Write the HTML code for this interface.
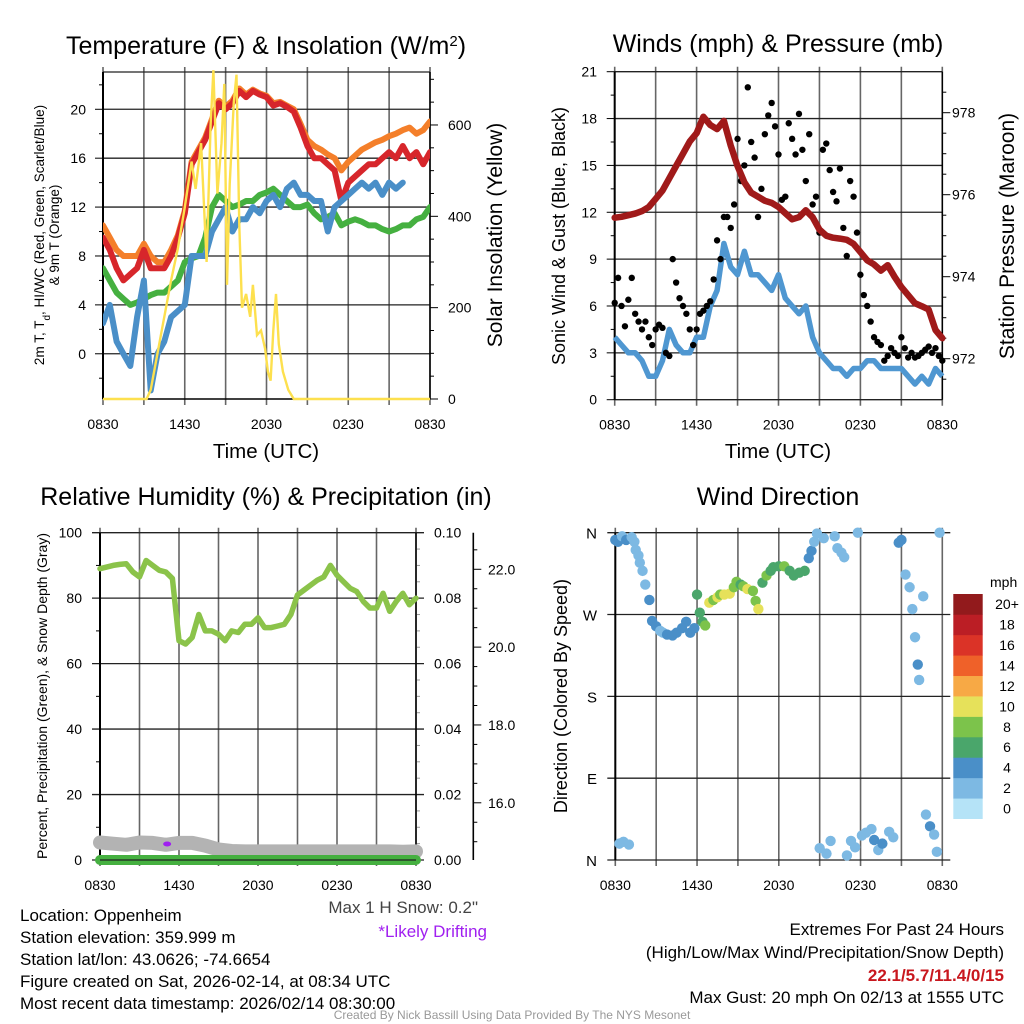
<!DOCTYPE html>
<html><head><meta charset="utf-8"><style>
html,body{margin:0;padding:0;background:#fff}
svg{display:block;font-family:"Liberation Sans",Arial,sans-serif}
</style></head><body>
<svg id="chart" width="1024" height="1024" viewBox="0 0 1024 1024" xmlns="http://www.w3.org/2000/svg">
<rect width="1024" height="1024" fill="#fff"/>
<g id="g1"></g>
<g id="g2"></g>
<g id="g3"></g>
<g id="g4"></g>
<g id="txt" font-size="17" fill="#000">
<text x="20" y="921">Location: Oppenheim</text>
<text x="20" y="943">Station elevation: 359.999 m</text>
<text x="20" y="965">Station lat/lon: 43.0626; -74.6654</text>
<text x="20" y="987">Figure created on Sat, 2026-02-14, at 08:34 UTC</text>
<text x="20" y="1009">Most recent data timestamp: 2026/02/14 08:30:00</text>
<text x="478" y="913" text-anchor="end" fill="#444">Max 1 H Snow: 0.2"</text>
<text x="487" y="937" text-anchor="end" fill="#a020f0">*Likely Drifting</text>
<text x="1004" y="935" text-anchor="end">Extremes For Past 24 Hours</text>
<text x="1004" y="958" text-anchor="end">(High/Low/Max Wind/Precipitation/Snow Depth)</text>
<text x="1004" y="981" text-anchor="end" fill="#c8171e" font-weight="bold">22.1/5.7/11.4/0/15</text>
<text x="1004" y="1003" text-anchor="end">Max Gust: 20 mph On 02/13 at 1555 UTC</text>
<text x="512" y="1019" text-anchor="middle" font-size="12" fill="#999">Created By Nick Bassill Using Data Provided By The NYS Mesonet</text>
</g>
</svg>
<script>
// ---------- DATA ----------
const xTickLabels = ["0830","1430","2030","0230","0830"];
// Panel 1 (0.5 h steps from 0830)
const temp2m = [9.5,8.5,7,6,6.5,7,8.5,7,7,7,8,9.5,11.5,15.5,16.5,17.5,19,20.5,20,20.5,21.5,21,21.5,21.2,21,20.3,20.5,20.2,19.8,18.5,17,16,16,15.5,15,12.5,14,14.5,15,15.5,15.5,16,16.5,16,17,16,16.5,15.5,16.5];
const temp9m = [10.5,9.5,8.5,8,8,8,9,8,7.5,7.5,8.5,9.7,11.7,15.7,16.7,17.7,19.2,20.7,20.2,20.7,21.7,21.2,21.6,21.3,21.1,20.5,20.6,20.3,20,18.8,17.5,17,16.7,16.3,16,15,15.7,16.2,16.7,17,17.3,17.5,17.8,18,18.3,18.5,18,18.3,19];
const dewpt = [7,6,5,4.5,4,4.2,4.5,4.8,5,5,5.5,6,7.5,7.8,8,9.5,12,13,12.5,12,12.2,12.5,12.5,13,13.2,13.5,13,12.5,12,12,12.2,11.5,11,11.2,11.5,10.5,10.8,11,10.8,10.5,10.5,10.2,10,10.2,10.5,10.5,11,11.2,12];
const windChill = [2.5,4,1,0,-1,3,6,-3,0,1,3,3.5,4,8,8,8,10,11,12,10,11,11,12,11.5,12.5,13,12,13.5,14,13,13,12.5,12.5,10,12,12.5,13,13.5,14,13.5,14,13,14,13.5,14,null,null,null,null];
const insolTimes = [0,3.2,3.5,4,4.5,5,5.5,6,6.5,6.8,7.2,7.6,7.9,8.1,8.4,8.7,8.9,9.1,9.3,9.6,9.8,10.0,10.2,10.5,10.8,11.0,11.3,11.6,11.9,12.1,12.3,12.5,12.7,12.9,13.2,13.6,14.0,24];
const insolValues = [0,0,20,100,180,260,330,420,520,460,560,300,600,720,450,560,690,250,470,650,710,380,200,230,180,250,140,150,110,60,40,150,230,120,60,20,0,0];
// Panel 2
const sonicWind = [4,3.5,3,3,2.5,1.5,1.5,2.5,4.5,3.5,3,3,4,4,6,7,10,8.5,8,9.5,8,8,7.5,7,8,6.5,6,5.5,6,4,3,2.5,2,2,1.5,2,2,2.5,2.5,2,2,2,2,1.5,1,1.5,1,2,1.5];
const gusts = [6.2,7.8,6,4.7,6.4,7.8,5.5,5,4.5,5,4,3.5,4.5,4.8,4.6,3,2.8,9,7.5,6.5,6,5.5,4.5,3.5,4.5,5.5,5.7,6,6.3,7.7,10.2,9,11.7,11.7,11,12.5,16.7,14,15,20,16.5,15.5,11.7,13.5,17,18.2,19,17.5,15.7,12.8,13,17.7,16.7,15.7,18.3,16,14,17,12.5,13,10.7,16,16.4,14.7,13.3,12.7,14.8,11,9.2,14,13,10.7,8,6.7,6,5,4,3.7,3.5,2.5,2.8,3.3,3,2.8,4,3.3,2.7,3,2.7,2.8,3,3.2,3.4,3,3.3,2.8,2.5];
const pressure = [975.44,975.46,975.5,975.54,975.6,975.7,975.9,976.1,976.4,976.7,977.0,977.3,977.5,977.9,977.7,977.6,977.8,977.2,976.7,976.3,976.05,975.95,975.85,975.8,975.7,975.55,975.4,975.45,975.62,975.45,975.15,975.0,974.95,974.93,974.9,974.8,974.6,974.4,974.3,974.15,974.28,974.0,973.75,973.55,973.35,973.28,973.2,972.7,972.5];
// Panel 3
const relHum = [89,89.5,90,90.3,90.5,88,86.5,91.5,90,88.5,88,86,67,66,68,75,70,70,69,67,70,69.5,72,72,74,71,71,71.5,72,75,81,82.5,84,85.5,86.5,90,87,85,83,82,79,77,77,81.5,76,79,81.5,78,80];
const precip = [0,0,0,0,0,0,0,0,0,0,0,0,0,0,0,0,0,0,0,0,0,0,0,0,0];
const snowDepth = [14.98,14.95,14.92,14.98,14.97,14.92,14.97,14.97,14.9,14.8,14.76,14.75,14.75,14.75,14.75,14.75,14.75,14.75,14.75,14.75,14.75,14.75,14.75,14.74,14.75];
const driftTimes = [5.1];
const driftValues = [14.94];
// Panel 4
const dirTimes = [0,0.2,0.5,0.8,0.3,0.6,1.0,1.2,1.4,1.5,1.7,1.8,2.0,2.2,2.5,2.7,3.0,3.3,3.5,3.8,4.2,4.5,4.9,5.2,5.5,5.8,6.0,6.2,6.4,6.6,6.9,7.2,7.5,7.7,8.0,8.4,8.7,8.9,9.2,9.4,9.7,10.1,10.3,10.5,10.8,11.1,11.4,11.6,12.0,12.4,12.8,13.1,13.5,13.9,14.2,14.4,14.6,14.8,15.0,15.3,15.5,15.8,16.1,16.3,16.6,16.8,17.0,17.3,17.6,17.8,18.1,18.4,18.8,19.0,19.3,19.6,20.1,20.4,20.8,21.0,21.3,21.6,21.8,22.0,22.2,22.3,22.6,22.8,23.1,23.4,23.6,23.8];
const dirValues = [352,350,356,352,18,20,17,355,350,341,335,327,318,303,286,263,257,252,250,248,247,250,255,262,250,255,292,272,262,258,283,286,289,292,292,293,300,306,303,301,298,296,285,276,305,313,318,322,323,323,318,313,316,318,332,340,350,359,13,354,7,21,356,343,338,333,5,21,14,360,27,30,34,22,11,18,31,25,349,352,314,300,276,245,215,198,290,50,37,28,9,360];
const dirSpeeds = [4,3,2,3,2,2,2,2,1,2,2,2,2,2,3,4,4,2,2,4,4,3,4,4,4,4,5,6,6,7,9,8,9,8,10,9,7,8,6,8,9,7,7,10,6,7,6,6,6,7,6,6,5,5,4,3,2,2,2,1,1,1,2,2,2,2,1,2,2,2,2,2,2,3,2,3,2,2,4,4,2,1,1,1,3,1,1,2,3,2,2,1];
const cbLabels = ["0","2","4","6","8","10","12","14","16","18","20+"];
const cbColors = ["#b5e3f7","#7db9e3","#4a8fc8","#4aa66b","#7cc34b","#e6e15a","#f7a945","#ef6129","#db3327","#bb1e25","#921a1c"];

// ---------- HELPERS ----------
const NS="http://www.w3.org/2000/svg";
function mk(parent,tag,attrs,text){const e=document.createElementNS(NS,tag);for(const k in attrs)e.setAttribute(k,attrs[k]);if(text!==undefined)e.textContent=text;parent.appendChild(e);return e;}
function lin(d0,d1,r0,r1){return v=>r0+(v-d0)*(r1-r0)/(d1-d0);}
function idxT(arr,i){return i*24/(arr.length-1);}
function pathFrom(times,vals,xs,ys){let d="",pen=false;for(let i=0;i<vals.length;i++){if(vals[i]===null){pen=false;continue;}d+=(pen?"L":"M")+xs(times(i)).toFixed(1)+","+ys(vals[i]).toFixed(1);pen=true;}return d;}

function frame(g,L,R,T,B){
  const xs=lin(0,24,L,R);
  for(let h=0;h<=24;h+=3){
    const gl=mk(g,"line",{x1:xs(h),x2:xs(h),y1:T-5,y2:B+6,stroke:"#666","stroke-width":1.6});
    
    
  }
  xTickLabels.forEach((s,i)=>{
    const t=mk(g,"text",{x:xs(i*6),y:B+30,"font-size":14,"text-anchor":"middle"},s);
    
    
  });
  return xs;
}
function hgrid(g,L,R,y,ext){const l=mk(g,"line",{x1:L-ext,x2:R+ext,y1:y,y2:y,stroke:"#222","stroke-width":1.3});
  
  }
function vtext(g,x,y,s,size,name,fill){const t=mk(g,"text",{x:x,y:y,"font-size":size,"text-anchor":"middle",transform:`rotate(-90 ${x} ${y})`,fill:fill||"#000"},s);
  
  return t;}
function ttl(g,x,y,s,name){const t=mk(g,"text",{x:x,y:y,"font-size":25,"text-anchor":"middle"},s);
  
  return t;}

// ---------- PANEL 1 ----------
(function(){
  const g=document.getElementById("g1");const L=103,R=430,T=72,B=399;
  const ys=lin(-3.7,23.05,B,T), yr=lin(0,716,B,T);
  const t=ttl(g,266,54,"Temperature (F) & Insolation (W/m","temperature-panel-title");
  mk(t,"tspan",{"baseline-shift":"super","font-size":15},"2");
  mk(t,"tspan",{},")");
  const xs=frame(g,L,R,T,B);
  hgrid(g,L,R,T,0);
  [0,4,8,12,16,20].forEach(v=>{hgrid(g,L,R,ys(v),0);
    const l=mk(g,"text",{x:86,y:ys(v)+5,"font-size":14,"text-anchor":"end"},String(v));
    
    });
  for(let v=-2;v<=22;v+=2){mk(g,"line",{x1:L,x2:L-(v%4===0?8:4),y1:ys(v),y2:ys(v),stroke:"#000"});}
  [0,200,400,600].forEach(v=>{mk(g,"line",{x1:R,x2:R+8,y1:yr(v),y2:yr(v),stroke:"#000"});
    const l=mk(g,"text",{x:448,y:yr(v)+5,"font-size":14},String(v));
    
    });
  for(let v=50;v<=700;v+=50){if(v%200)mk(g,"line",{x1:R,x2:R+4,y1:yr(v),y2:yr(v),stroke:"#000"});}
  mk(g,"line",{x1:L,x2:L,y1:T,y2:B,stroke:"#000","stroke-width":2});
  mk(g,"line",{x1:R,x2:R,y1:T,y2:B,stroke:"#000","stroke-width":1.5});
  mk(g,"line",{x1:L,x2:R,y1:B,y2:B,stroke:"#000","stroke-width":1.5});
  const cp=mk(g,"clipPath",{id:"c1"});mk(cp,"rect",{x:L,y:T-2,width:R-L,height:B-T+4});
  const series=[[temp9m,"#f47f2a","orange-9m-temp-line"],[temp2m,"#d7262b","red-2m-temp-line"],[dewpt,"#45b040","green-dewpoint-line"],[windChill,"#4a8fc8","blue-windchill-line"]];
  series.forEach(s=>{const p=mk(g,"path",{d:pathFrom(i=>idxT(s[0],i),s[0],xs,ys),fill:"none",stroke:s[1],"stroke-width":6,"stroke-linejoin":"round","stroke-linecap":"round","clip-path":"url(#c1)"});
    
    });
  const p=mk(g,"path",{d:pathFrom(i=>insolTimes[i],insolValues,xs,yr),fill:"none",stroke:"#fde04e","stroke-width":2.4,"clip-path":"url(#c1)"});
  
  
  const xt=mk(g,"text",{x:266,y:458,"font-size":20.5,"text-anchor":"middle"},"Time (UTC)");
  
  
  const a=vtext(g,44,235,"2m T, T",13.5,"left-axis-title-line1");
  mk(a,"tspan",{"baseline-shift":"sub","font-size":10},"d");
  mk(a,"tspan",{},", HI/WC (Red, Green, Scarlet/Blue)");
  vtext(g,59,235,"& 9m T (Orange)",13.5,"left-axis-title-line2");
  vtext(g,502,235,"Solar Insolation (Yellow)",21,"right-axis-title");
})();

// ---------- PANEL 2 ----------
(function(){
  const g=document.getElementById("g2");const L=614.7,R=942.3,T=71.7,B=399.7;
  const ys=lin(0,21,B,T), yp=lin(971,979,B,T);
  ttl(g,778,52,"Winds (mph) & Pressure (mb)","wind-panel-title");
  const xs=frame(g,L,R,T,B);
  [0,3,6,9,12,15,18,21].forEach(v=>{hgrid(g,L,R,ys(v),0);
    mk(g,"line",{x1:L,x2:L-8,y1:ys(v),y2:ys(v),stroke:"#000"});
    const l=mk(g,"text",{x:597,y:ys(v)+5,"font-size":14,"text-anchor":"end"},String(v));
    
    });
  for(let v=1.5;v<21;v+=3)mk(g,"line",{x1:L,x2:L-4,y1:ys(v),y2:ys(v),stroke:"#000"});
  [972,974,976,978].forEach(v=>{mk(g,"line",{x1:R,x2:R+8,y1:yp(v),y2:yp(v),stroke:"#000"});
    const l=mk(g,"text",{x:952,y:yp(v)+5,"font-size":14},String(v));
    
    });
  for(let v=971.5;v<979;v+=0.5){if(v%2)mk(g,"line",{x1:R,x2:R+4,y1:yp(v),y2:yp(v),stroke:"#000"});}
  mk(g,"line",{x1:L,x2:L,y1:T,y2:B,stroke:"#000","stroke-width":2});
  mk(g,"line",{x1:R,x2:R,y1:T,y2:B,stroke:"#000","stroke-width":1.5});
  const p1=mk(g,"path",{d:pathFrom(i=>idxT(sonicWind,i),sonicWind,xs,ys),fill:"none",stroke:"#4f97d1","stroke-width":5.5,"stroke-linejoin":"round"});
  
  
  gusts.forEach((v,i)=>{const c=mk(g,"circle",{cx:xs(idxT(gusts,i)),cy:ys(v),r:3.2,fill:"#000"});
    
    });
  const p2=mk(g,"path",{d:pathFrom(i=>idxT(pressure,i),pressure,xs,yp),fill:"none",stroke:"#a01a1a","stroke-width":6.5,"stroke-linejoin":"round","stroke-linecap":"round"});
  
  
  const xt=mk(g,"text",{x:778,y:458,"font-size":20.5,"text-anchor":"middle"},"Time (UTC)");
  
  
  vtext(g,565,236,"Sonic Wind & Gust (Blue, Black)",18,"left-axis-title");
  vtext(g,1014,236,"Station Pressure (Maroon)",21,"right-axis-title");
})();

// ---------- PANEL 3 ----------
(function(){
  const g=document.getElementById("g3");const L=100,R=416,T=532.7,B=860;
  const ys=lin(0,100,B,T), yq=lin(0,0.1,B,T), yz=lin(14.53,22.94,B,T);
  ttl(g,266,505,"Relative Humidity (%) & Precipitation (in)","humidity-panel-title");
  const xs=frame(g,L,R,T,B);
  [0,20,40,60,80,100].forEach(v=>{hgrid(g,L,R,ys(v),8);
    const l=mk(g,"text",{x:82,y:ys(v)+5,"font-size":14,"text-anchor":"end"},String(v));
    
    
    const r=mk(g,"text",{x:434,y:ys(v)+5,"font-size":14},(v/1000).toFixed(2));
    
    });
  for(let v=10;v<100;v+=20){mk(g,"line",{x1:L,x2:L-4,y1:ys(v),y2:ys(v),stroke:"#000"});}
  for(let v=5;v<100;v+=5){if(v%20)mk(g,"line",{x1:R,x2:R+4,y1:ys(v),y2:ys(v),stroke:"#999"});}
  mk(g,"line",{x1:L,x2:L,y1:T,y2:B,stroke:"#000","stroke-width":2});
  mk(g,"line",{x1:R,x2:R,y1:T,y2:B,stroke:"#000","stroke-width":1.5});
  mk(g,"line",{x1:473.3,x2:473.3,y1:T,y2:B,stroke:"#000","stroke-width":1.6});
  for(let v=15;v<=22.5;v+=0.5){mk(g,"line",{x1:473.3,x2:473.3+(v%2===0?8:4),y1:yz(v),y2:yz(v),stroke:"#000"});}
  [16,18,20,22].forEach(v=>{const l=mk(g,"text",{x:488,y:yz(v)+5,"font-size":14},v.toFixed(1));
    
    });
  const s=mk(g,"path",{d:pathFrom(i=>idxT(snowDepth,i),snowDepth,xs,yz),fill:"none",stroke:"#b3b3b3","stroke-width":14,"stroke-linejoin":"round","stroke-linecap":"round"});
  
  
  driftTimes.forEach((t,i)=>{const e=mk(g,"ellipse",{cx:xs(t),cy:yz(driftValues[i]),rx:4,ry:2.5,fill:"#a020f0"});
    
    });
  const pp=mk(g,"path",{d:pathFrom(i=>idxT(precip,i),precip,xs,yq),fill:"none",stroke:"#45b040","stroke-width":10,"stroke-linecap":"round"});
  
  
  mk(g,"line",{x1:L,x2:R,y1:B,y2:B,stroke:"#222","stroke-width":1.2});
  const rh=mk(g,"path",{d:pathFrom(i=>idxT(relHum,i),relHum,xs,ys),fill:"none",stroke:"#8bc34a","stroke-width":5.5,"stroke-linejoin":"round","stroke-linecap":"round"});
  
  
  vtext(g,47,696,"Percent, Precipitation (Green), & Snow Depth (Gray)",14,"left-axis-title");
})();

// ---------- PANEL 4 ----------
(function(){
  const g=document.getElementById("g4");const L=615.3,R=942.3,T=532.7,B=860;
  const yd=lin(0,360,B,T);
  ttl(g,778,505,"Wind Direction","direction-panel-title");
  const xs=frame(g,L,R,T,B);
  ["N","E","S","W","N"].forEach((s,i)=>{hgrid(g,L,R,yd(i*90),8);
    const l=mk(g,"text",{x:597,y:yd(i*90)+6,"font-size":15,"text-anchor":"end"},s);
    
    });
  mk(g,"line",{x1:L,x2:L,y1:T,y2:B,stroke:"#000","stroke-width":2});
  dirTimes.forEach((t,i)=>{const ci=Math.min(10,Math.floor((dirSpeeds[i]+1)/2));
    const c=mk(g,"circle",{cx:xs(t),cy:yd(dirValues[i]),r:5.2,fill:cbColors[ci]});
    
    });
  const cbT=594,cbH=224.7/11;
  const u=mk(g,"text",{x:990,y:587,"font-size":14},"mph");
  
  
  cbLabels.forEach((s,i)=>{const y=cbT+(10-i)*cbH;
    const r=mk(g,"rect",{x:953.3,y:y,width:29.4,height:cbH+0.3,fill:cbColors[i]});
    
    
    const l=mk(g,"text",{x:1007,y:y+cbH/2+5,"font-size":14,"text-anchor":"middle"},s);
    
    });
  vtext(g,567,696,"Direction (Colored By Speed)",18,"left-axis-title");
})();
</script>
</body></html>
